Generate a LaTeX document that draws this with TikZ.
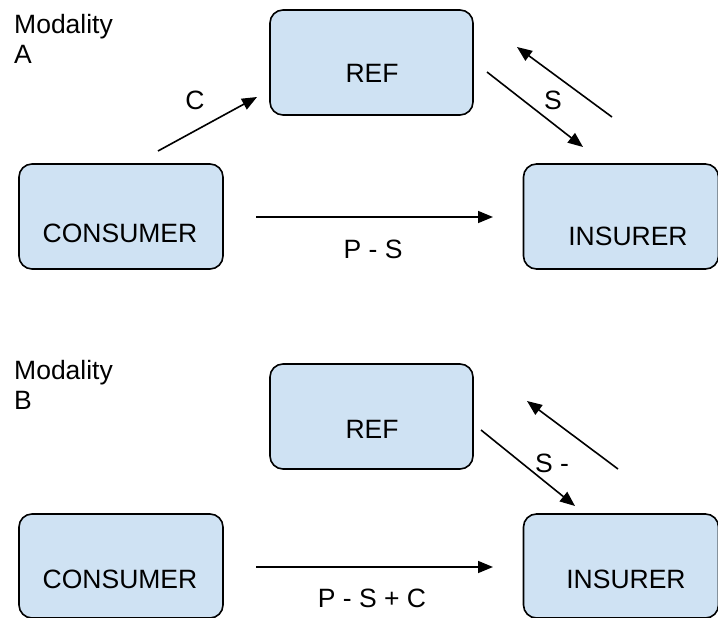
\documentclass[tikz,border=0pt]{standalone}
\usepackage{fontspec}
\setmainfont{Liberation Sans}
\usetikzlibrary{arrows.meta}
\definecolor{boxfill}{HTML}{CFE2F3}
\begin{document}
\begin{tikzpicture}[x=1pt,y=-1pt,
  box/.style={draw=black, line width=1.6pt, fill=boxfill, rounded corners=13pt, inner sep=0pt},
  lbl/.style={font=\fontsize{26.5}{30}\selectfont, inner sep=0pt, anchor=base},
  arr/.style={line width=1.6pt, -{Triangle[length=15pt,width=12pt]}}]
\useasboundingbox (0,0) rectangle (718,618);
% ---------- Modality A ----------
\node[lbl, anchor=north west, align=left] (modA) at (14,14) {Modality\\A};
\node[box, minimum width=203pt, minimum height=105pt] (refA) at (371.5,62.5) {};
\node[box, minimum width=204pt, minimum height=105pt] (conA) at (121,216.5) {};
\node[box, minimum width=195pt, minimum height=105pt] (insA) at (621,216.5) {};
\node[lbl] (refAt) at (372,82) {REF};
\node[lbl] (conAt) at (120,242) {CONSUMER};
\node[lbl] (insAt) at (628,245) {INSURER};
\coordinate (cA1) at (158,151); \coordinate (cA2) at (257,97);
\coordinate (pA1) at (256,217); \coordinate (pA2) at (493,217);
\coordinate (sA1) at (487,72);  \coordinate (sA2) at (583,147);
\coordinate (bA1) at (612,117); \coordinate (bA2) at (517,47);
\draw[arr] (cA1) -- (cA2);
\draw[arr] (pA1) -- (pA2);
\draw[arr] (sA1) -- (sA2);
\draw[arr] (bA1) -- (bA2);
\node[lbl] (labC) at (195,110) {C};
\node[lbl] (labPS) at (373,258) {P - S};
\node[lbl] (labS) at (553,110) {S};
% ---------- Modality B ----------
\node[lbl, anchor=north west, align=left] (modB) at (14,360) {Modality\\B};
\node[box, minimum width=203pt, minimum height=105pt] (refB) at (371.5,416.5) {};
\node[box, minimum width=204pt, minimum height=104pt] (conB) at (121,566) {};
\node[box, minimum width=195pt, minimum height=104pt] (insB) at (621,566) {};
\node[lbl] (refBt) at (372,438) {REF};
\node[lbl] (conBt) at (120,588) {CONSUMER};
\node[lbl] (insBt) at (626,588) {INSURER};
\coordinate (pB1) at (256,567); \coordinate (pB2) at (493,567);
\coordinate (sB1) at (481,430); \coordinate (sB2) at (575,506);
\coordinate (bB1) at (618,469); \coordinate (bB2) at (527,401);
\draw[arr] (pB1) -- (pB2);
\draw[arr] (sB1) -- (sB2);
\draw[arr] (bB1) -- (bB2);
\node[lbl] (labPSC) at (372,607) {P - S + C};
\node[lbl] (labSm) at (552,472) {S -};
\end{tikzpicture}
\end{document}
